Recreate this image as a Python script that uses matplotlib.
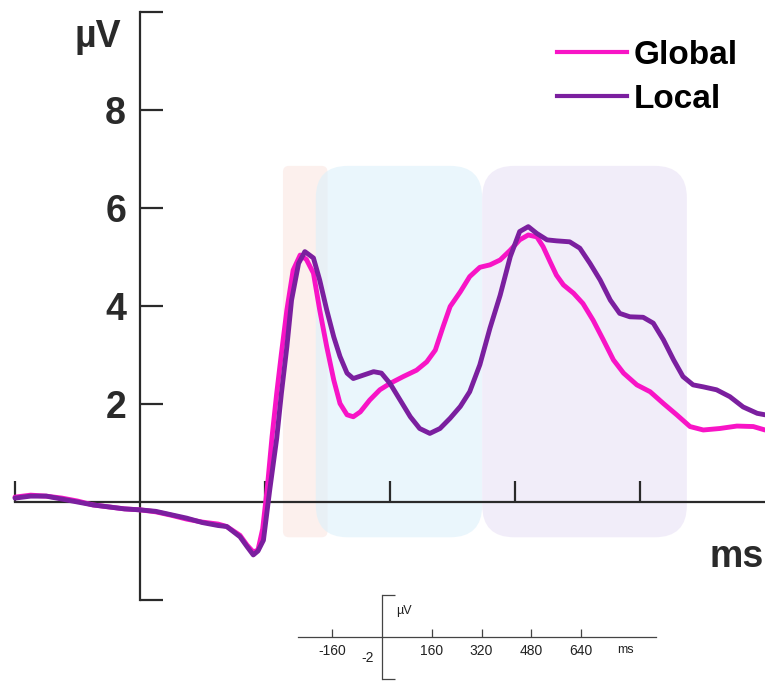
import numpy as np
import matplotlib.pyplot as plt
from matplotlib.patches import FancyBboxPatch
from matplotlib.lines import Line2D

plt.rcParams['font.family'] = ['Liberation Sans', 'DejaVu Sans']
plt.rcParams['axes.unicode_minus'] = False

# time in ms, amplitude in microvolts
global_t = [-160, -140, -120, -100, -80, -60, -40, -20, 0, 20, 40, 60, 80, 100,
            111, 128, 137, 145, 151, 157, 163, 169, 175, 181, 188, 196, 205, 213,
            222, 230, 239, 248, 256, 265, 273, 282, 294, 307, 320, 337, 354, 367,
            378, 388, 397, 410, 422, 435, 448, 461, 474, 486, 497, 508, 516, 525,
            533, 542, 555, 567, 580, 593, 606, 619, 636, 653, 670, 687, 704, 721,
            742, 764, 785, 800]
global_uv = [0.10, 0.14, 0.12, 0.08, 0.02, -0.06, -0.10, -0.14, -0.16, -0.20, -0.27, -0.35, -0.41, -0.45,
             -0.50, -0.68, -0.88, -1.02, -0.98, -0.55, 0.30, 1.33, 2.22, 3.03, 3.92, 4.73, 5.04, 4.95,
             4.67, 3.92, 3.17, 2.49, 2.01, 1.78, 1.74, 1.84, 2.08, 2.29, 2.42, 2.56, 2.69, 2.86,
             3.10, 3.58, 3.99, 4.29, 4.60, 4.79, 4.84, 4.94, 5.14, 5.35, 5.45, 5.41, 5.21, 4.90,
             4.63, 4.43, 4.26, 4.05, 3.71, 3.31, 2.90, 2.63, 2.39, 2.25, 2.01, 1.78, 1.54, 1.47,
             1.50, 1.55, 1.54, 1.47]

local_t = [-160, -140, -120, -100, -80, -60, -40, -20, 0, 20, 40, 60, 80, 100,
           111, 128, 137, 145, 151, 158, 166, 175, 181, 188, 194, 203, 211, 222,
           230, 239, 248, 256, 265, 273, 286, 299, 309, 320, 333, 346, 358, 371,
           384, 397, 410, 422, 435, 448, 461, 474, 486, 497, 508, 521, 533, 550,
           563, 576, 589, 602, 614, 627, 644, 657, 670, 683, 695, 708, 721, 738,
           755, 772, 790, 800]
local_uv = [0.08, 0.12, 0.12, 0.06, 0.00, -0.06, -0.10, -0.14, -0.16, -0.19, -0.26, -0.33, -0.42, -0.48,
            -0.50, -0.71, -0.91, -1.08, -1.00, -0.78, 0.24, 1.30, 2.22, 3.17, 4.12, 4.87, 5.11, 4.98,
            4.53, 3.92, 3.37, 2.97, 2.63, 2.52, 2.59, 2.66, 2.63, 2.42, 2.08, 1.74, 1.50, 1.40,
            1.50, 1.71, 1.95, 2.25, 2.80, 3.55, 4.22, 5.01, 5.52, 5.62, 5.48, 5.35, 5.33, 5.31,
            5.18, 4.87, 4.53, 4.12, 3.85, 3.78, 3.77, 3.65, 3.31, 2.90, 2.56, 2.39, 2.35, 2.29,
            2.15, 1.94, 1.81, 1.78]

# analysis windows (ms)
windows = [(183, 240), (225, 438), (438, 700)]
window_colors = ['#fae6e2', '#dcf0fb', '#e9e1f6']
window_round = [6, 32, 32]

global_color = '#f814c6'
local_color = '#7b1f9f'
axis_color = '#2a2a2a'

fig = plt.figure(figsize=(7.65, 6.84), dpi=100)
ax = fig.add_axes([0, 0, 1, 1])
ax.set_xlim(-179.2, 800)
ax.set_ylim(-3.714, 10.245)
ax.patch.set_visible(False)

# px -> data scale for rounded corners
px_x = 1 / 0.78125
px_y = 1 / 49.0
for (t0, t1), c, r in zip(windows, window_colors, window_round):
    box = FancyBboxPatch((t0, -0.72), t1 - t0, 6.86 + 0.72,
                         boxstyle='round,pad=0,rounding_size=%f' % (r * px_x),
                         mutation_aspect=px_y / px_x,
                         fc=c, ec='none', alpha=0.6, zorder=0)
    ax.add_patch(box)

ax.plot(global_t, global_uv, color=global_color, lw=3.5, solid_capstyle='round',
        solid_joinstyle='round', zorder=3)
ax.plot(local_t, local_uv, color=local_color, lw=3.5, solid_capstyle='round',
        solid_joinstyle='round', zorder=4)

for s in ['top', 'right']:
    ax.spines[s].set_visible(False)
ax.spines['left'].set_position(('data', 0))
ax.spines['left'].set_bounds(-2, 10)
ax.spines['bottom'].set_position(('data', 0))
ax.spines['bottom'].set_bounds(-160, 800)
for s in ['left', 'bottom']:
    ax.spines[s].set_linewidth(1.6)
    ax.spines[s].set_color(axis_color)

ax.set_xticks([-160, 160, 320, 480, 640])
ax.set_xticklabels([])
ax.tick_params(axis='x', direction='in', length=15, width=1.6, color=axis_color)
ax.set_yticks([-2, 2, 4, 6, 8, 10])
ax.set_yticklabels(['', '2', '4', '6', '8', ''])
ax.tick_params(axis='y', direction='in', length=16.5, width=1.6, color=axis_color,
               pad=10, labelsize=27, labelcolor=axis_color)
for lab in ax.get_yticklabels():
    lab.set_fontweight('bold')

ax.text(-54, 9.29, 'µV', ha='center', va='baseline', fontsize=27,
        fontweight='bold', color=axis_color)
ax.text(764, -1.33, 'ms', ha='center', va='baseline', fontsize=27,
        fontweight='bold', color=axis_color)

handles = [Line2D([], [], color=global_color, lw=3),
           Line2D([], [], color=local_color, lw=3)]
ax.legend(handles, ['Global', 'Local'], loc='upper left',
          bbox_to_anchor=(557 / 765, 1 - 40 / 684), frameon=False,
          prop={'weight': 'bold', 'size': 24}, handlelength=2.1,
          handletextpad=0.2, labelspacing=0.39, borderpad=0, borderaxespad=0)

# small scale key at the bottom
ins = fig.add_axes([280 / 765, 0, 400 / 765, 94 / 684])
ins.set_xlim(-328, 958)
ins.set_ylim(-2.24, 2.24)
ins.patch.set_visible(False)
for s in ['top', 'right']:
    ins.spines[s].set_visible(False)
ins.spines['left'].set_position(('data', 0))
ins.spines['left'].set_bounds(-2, 2)
ins.spines['bottom'].set_position(('data', 0))
ins.spines['bottom'].set_bounds(-270, 880)
for s in ['left', 'bottom']:
    ins.spines[s].set_linewidth(0.9)
    ins.spines[s].set_color('#444444')
ins.set_xticks([-160, 160, 320, 480, 640])
ins.tick_params(axis='x', direction='in', length=6, width=0.9, color='#444444',
                pad=5, labelsize=10, labelcolor='#222222')
ins.set_yticks([-2, 2])
ins.set_yticklabels([])
ins.tick_params(axis='y', direction='in', length=9.5, width=0.9, color='#444444')
ins.text(45, 1.25, 'µV', ha='left', va='center', fontsize=9, color='#222222')
ins.text(-45, -1.0, '-2', ha='center', va='center', fontsize=10, color='#222222')
ins.text(755, -0.62, 'ms', ha='left', va='center', fontsize=9, color='#222222')

fig.savefig('out.png', dpi=100)
